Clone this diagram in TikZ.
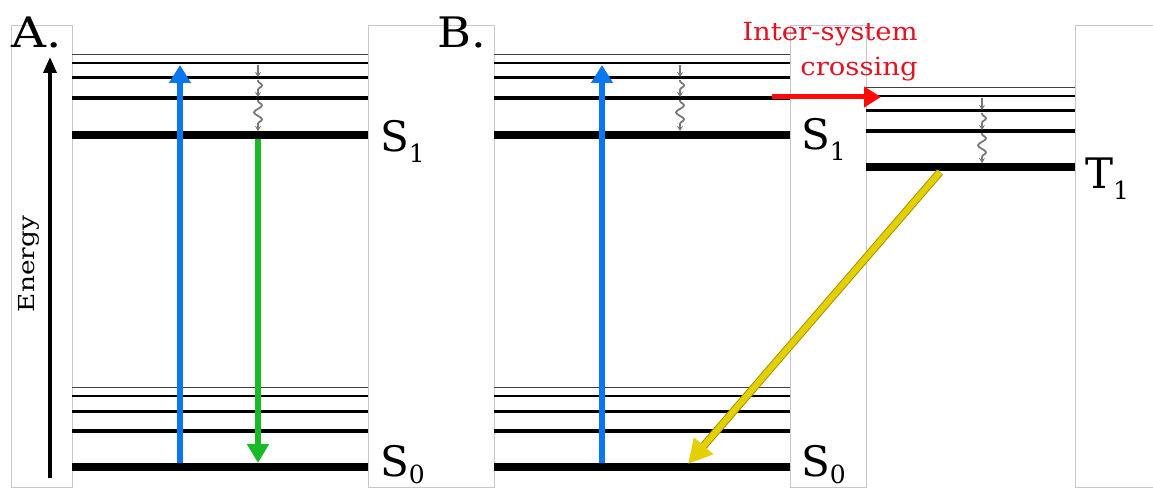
\documentclass[tikz,border=0pt]{standalone}
\usepackage{fontspec}
\setmainfont{DejaVu Serif}
\usetikzlibrary{arrows.meta,decorations.pathmorphing}
\definecolor{boxgray}{RGB}{200,200,200}
\definecolor{exblue}{RGB}{10,118,240}
\definecolor{emgreen}{RGB}{25,185,40}
\definecolor{iscred}{RGB}{255,10,10}
\definecolor{txtred}{RGB}{225,20,35}
\definecolor{phyellow}{RGB}{228,208,0}
\definecolor{phedge}{RGB}{160,150,0}
\definecolor{wavegray}{RGB}{120,120,120}
\tikzset{
  panelbox/.style={draw=boxgray, fill=white, line width=1pt},
  lvlthin/.style={draw=black!75, line width=0.9pt},
  lvla/.style={draw=black, line width=2pt},
  lvlb/.style={draw=black, line width=3pt},
  lvlc/.style={draw=black, line width=3.5pt},
  lvlg/.style={draw=black, line width=8.5pt},
  excite/.style={draw=exblue, line width=5.5pt, -{Triangle[width=21pt,length=18pt]}},
  emit/.style={draw=emgreen, line width=5.5pt, -{Triangle[width=21pt,length=19pt]}},
  iscarrow/.style={draw=iscred, line width=5pt, -{Triangle[width=20pt,length=17pt]}},
  phosarrow/.style={draw=phyellow, line width=6pt, -{Triangle[width=24pt,length=24pt]}},
  phosedge/.style={draw=phedge, line width=8pt, shorten >=14pt},
  energyarrow/.style={draw=black, line width=3.5pt, -{Triangle[width=13pt,length=16pt]}},
  wave/.style={draw=wavegray, line width=1.8pt, -{Stealth[length=5pt,width=6pt]},
    decorate, decoration={snake, amplitude=4pt, segment length=14pt, pre length=1pt, post length=4pt}},
  biglabel/.style={inner sep=0pt, anchor=base west, font=\fontsize{42}{42}\selectfont}
}
\newcommand{\lvlsub}[3]{#1\raisebox{-#3}{\fontsize{25}{25}\selectfont #2}}
\begin{document}
\begin{tikzpicture}[x=1pt,y=-1pt]
\useasboundingbox (0,0) rectangle (1153,489);
% panel boxes
\path[panelbox] (11,26) rectangle (72,487);
\path[panelbox] (368,26) rectangle (494,487);
\path[panelbox] (790,26) rectangle (866,487);
\path[panelbox] (1075,26) rectangle (1160,487);
% levels
\foreach \xa/\xb in {72/368, 494/790} {
  \draw[lvlthin] (\xa,54) -- (\xb,54);
  \draw[lvla] (\xa,63) -- (\xb,63);
  \draw[lvlb] (\xa,78) -- (\xb,78);
  \draw[lvlc] (\xa,98) -- (\xb,98);
  \draw[lvlg] (\xa,135) -- (\xb,135);
  \draw[lvlthin] (\xa,387) -- (\xb,387);
  \draw[lvla] (\xa,396) -- (\xb,396);
  \draw[lvlb] (\xa,411) -- (\xb,411);
  \draw[lvlc] (\xa,431) -- (\xb,431);
  \draw[lvlg] (\xa,467) -- (\xb,467);
}
\draw[lvlthin] (866,87) -- (1075,87);
\draw[lvla] (866,96) -- (1075,96);
\draw[lvlb] (866,111) -- (1075,111);
\draw[lvlc] (866,131) -- (1075,131);
\draw[lvlg] (866,167) -- (1075,167);
% coordinates
\coordinate (enS) at (50,478);
\coordinate (enE) at (50,57);
\coordinate (aexS) at (180,463);
\coordinate (aexE) at (180,65);
\coordinate (aemS) at (258,139);
\coordinate (aemE) at (258,463);
\coordinate (bexS) at (602,463);
\coordinate (bexE) at (602,65);
\coordinate (iscS) at (772,97);
\coordinate (iscE) at (881,97);
\coordinate (phS) at (940,172);
\coordinate (phE) at (688,464);
% arrows
\draw[energyarrow] (enS) -- (enE);
\draw[excite] (aexS) -- (aexE);
\draw[emit] (aemS) -- (aemE);
\draw[excite] (bexS) -- (bexE);
\draw[iscarrow] (iscS) -- (iscE);
\draw[phosedge] (phS) -- (phE);
\draw[phosarrow] (phS) -- (phE);
% wavy relaxation
\foreach \xw in {258, 680} {
  \draw[wave] (\xw,65) -- (\xw,77);
  \draw[wave] (\xw,80) -- (\xw,97);
  \draw[wave] (\xw,100) -- (\xw,131);
}
\draw[wave] (982,98) -- (982,110);
\draw[wave] (982,113) -- (982,130);
\draw[wave] (982,133) -- (982,163);
% labels
\node[biglabel] (lblA) at (11,48) {\scalebox{1.15}[1]{A.}};
\node[biglabel] (lblB) at (437,48) {\scalebox{1.1}[1]{B.}};
\node[biglabel] (lblS1a) at (380,152) {\lvlsub{S}{1}{11pt}};
\node[biglabel] (lblS0a) at (380,476) {\lvlsub{S}{0}{7pt}};
\node[biglabel] (lblS1b) at (801,150) {\lvlsub{S}{1}{11pt}};
\node[biglabel] (lblS0b) at (801,476) {\lvlsub{S}{0}{7pt}};
\node[biglabel] (lblT1) at (1085,189) {\lvlsub{T}{1}{11pt}};
\node[rotate=90, font=\fontsize{22}{22}\selectfont, inner sep=0pt] (lblEnergy) at (29,264) {\scalebox{1.2}[1]{Energy}};
\node[text=txtred, align=right, anchor=north east, inner sep=0pt, font=\fontsize{25}{35}\selectfont] (lblISC) at (918,22) {\scalebox{1.1}[1]{Inter-system}\\\scalebox{1.1}[1]{crossing}};
\end{tikzpicture}
\end{document}
